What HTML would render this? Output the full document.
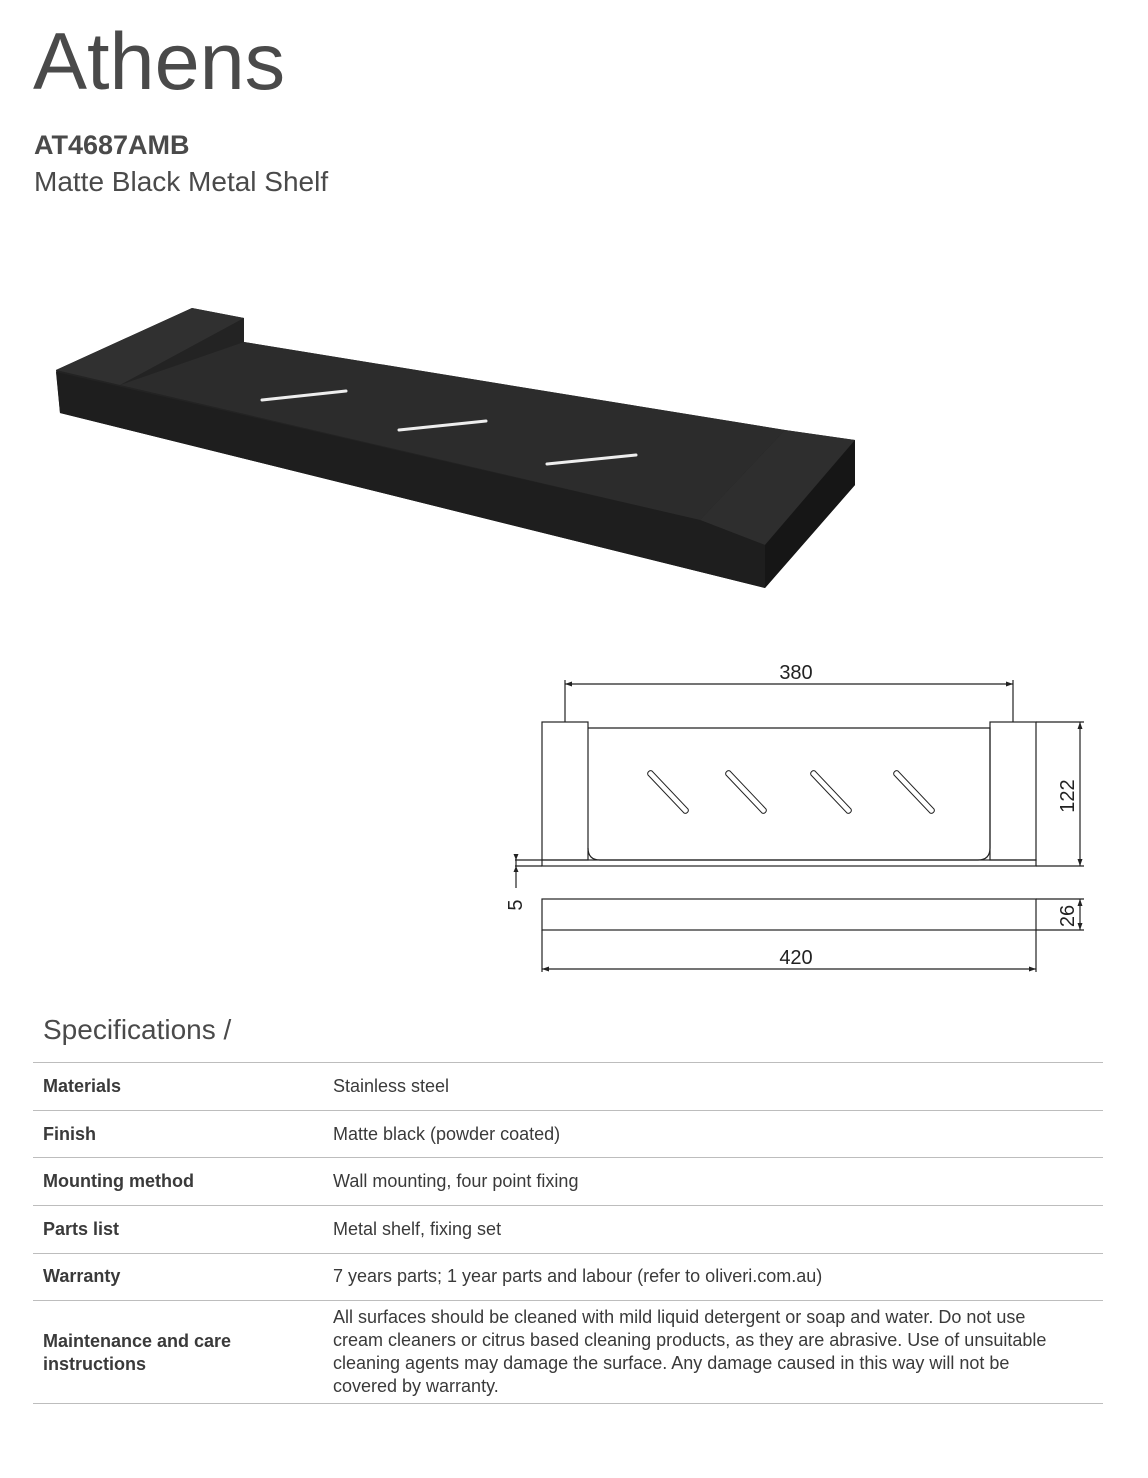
<!DOCTYPE html>
<html><head><meta charset="utf-8"><style>
body{margin:0;width:1148px;height:1478px;background:#fff;position:relative;font-family:"Liberation Sans",sans-serif;color:#4a4a4a;overflow:hidden}
.a{position:absolute;white-space:nowrap}
.l{position:absolute;left:33px;width:1070px;height:1px;background:#bdbdbd}
.k{position:absolute;left:43px;font-weight:bold;font-size:18px;color:#3a3a3a}
.v{position:absolute;left:333px;font-size:18px;color:#3a3a3a;line-height:23px}
</style></head><body>
<div class="a" style="left:33px;top:14px;font-size:81px;line-height:96px;letter-spacing:0px">Athens</div>
<div class="a" style="left:34px;top:128px;font-size:27px;font-weight:bold;line-height:34px">AT4687AMB</div>
<div class="a" style="left:34px;top:164px;font-size:28px;line-height:36px">Matte Black Metal Shelf</div>

<svg class="a" style="left:0;top:0" width="1148" height="1000">
<polygon points="56,370 192,308 244,318 244,342 785,430 855,440 855,485 765,588 60,413" fill="#232323"/>
<polygon points="120,385 244,342 785,430 700,520" fill="#2c2c2c"/>
<polygon points="56,370 192,308 244,318 120,385" fill="#303030"/>
<polygon points="700,520 785,430 855,440 765,545" fill="#2e2e2e"/>
<polygon points="56,372 700,520 765,545 765,588 60,413" fill="#1e1e1e"/>
<polygon points="765,545 855,440 855,485 765,588" fill="#161616"/>
<g stroke="#eee" stroke-width="3" stroke-linecap="round">
<line x1="262" y1="400" x2="346" y2="391"/><line x1="399" y1="430" x2="486" y2="421"/><line x1="547" y1="464" x2="636" y2="455"/></g>
<g fill="none" stroke="#222" stroke-width="1.2">
<line x1="565" y1="684" x2="1013" y2="684"/><line x1="565" y1="680" x2="565" y2="722"/><line x1="1013" y1="680" x2="1013" y2="722"/>
<rect x="542" y="722" width="46" height="138"/><rect x="990" y="722" width="46" height="138"/>
<path d="M588,728 H990 V848 Q990,860 978,860 H600 Q588,860 588,848"/>
<rect x="542" y="860" width="494" height="6"/>
<line x1="515" y1="860" x2="542" y2="860"/><line x1="515" y1="866" x2="542" y2="866"/>
<line x1="516" y1="854" x2="516" y2="888"/>
<line x1="1036" y1="722" x2="1084" y2="722"/><line x1="1036" y1="866" x2="1084" y2="866"/><line x1="1080" y1="722" x2="1080" y2="866"/>
<rect x="542" y="899" width="494" height="31"/>
<line x1="1036" y1="899" x2="1084" y2="899"/><line x1="1036" y1="930" x2="1084" y2="930"/><line x1="1080" y1="899" x2="1080" y2="930"/>
<line x1="542" y1="930" x2="542" y2="972"/><line x1="1036" y1="930" x2="1036" y2="972"/><line x1="542" y1="969" x2="1036" y2="969"/>
<g stroke-width="1"><path d="M648,775 l36,38 a3,3 0 0 0 4,-4 l-36,-38 a3,3 0 0 0 -4,4z"/><path d="M726,775 l36,38 a3,3 0 0 0 4,-4 l-36,-38 a3,3 0 0 0 -4,4z"/><path d="M811,775 l36,38 a3,3 0 0 0 4,-4 l-36,-38 a3,3 0 0 0 -4,4z"/><path d="M894,775 l36,38 a3,3 0 0 0 4,-4 l-36,-38 a3,3 0 0 0 -4,4z"/></g>
</g>
<g fill="#222">
<path d="M565,684 l7,-2.5 v5z"/><path d="M1013,684 l-7,-2.5 v5z"/>
<path d="M1080,722 l-2.5,7 h5z"/><path d="M1080,866 l-2.5,-7 h5z"/>
<path d="M1080,899 l-2.5,7 h5z"/><path d="M1080,930 l-2.5,-7 h5z"/>
<path d="M542,969 l7,-2.5 v5z"/><path d="M1036,969 l-7,-2.5 v5z"/>
<path d="M516,860 l-2.5,-6 h5z"/><path d="M516,866 l-2.5,6 h5z"/>
</g>
<g font-family="Liberation Sans,sans-serif" font-size="20" fill="#222" text-anchor="middle">
<text x="796" y="679">380</text><text x="796" y="964">420</text>
<text transform="translate(1074,796) rotate(-90)">122</text>
<text transform="translate(1074,916) rotate(-90)">26</text>
<text transform="translate(522,905) rotate(-90)">5</text>
</g>
</svg>

<div class="a" style="left:43px;top:1012px;font-size:28px;line-height:36px">Specifications /</div>
<div class="l" style="top:1062px"></div><div class="l" style="top:1110px"></div><div class="l" style="top:1157px"></div><div class="l" style="top:1205px"></div><div class="l" style="top:1253px"></div><div class="l" style="top:1300px"></div><div class="l" style="top:1403px"></div>
<div class="k" style="top:1076px">Materials</div><div class="v" style="top:1075px">Stainless steel</div>
<div class="k" style="top:1124px">Finish</div><div class="v" style="top:1123px">Matte black (powder coated)</div>
<div class="k" style="top:1171px">Mounting method</div><div class="v" style="top:1170px">Wall mounting, four point fixing</div>
<div class="k" style="top:1219px">Parts list</div><div class="v" style="top:1218px">Metal shelf, fixing set</div>
<div class="k" style="top:1266px">Warranty</div><div class="v" style="top:1265px">7 years parts; 1 year parts and labour (refer to oliveri.com.au)</div>
<div class="k" style="top:1330px;line-height:23px">Maintenance and care<br>instructions</div>
<div class="v" style="top:1306px;width:740px;white-space:normal">All surfaces should be cleaned with mild liquid detergent or soap and water. Do not use cream cleaners or citrus based cleaning products, as they are abrasive. Use of unsuitable cleaning agents may damage the surface. Any damage caused in this way will not be covered by warranty.</div>
</body></html>
